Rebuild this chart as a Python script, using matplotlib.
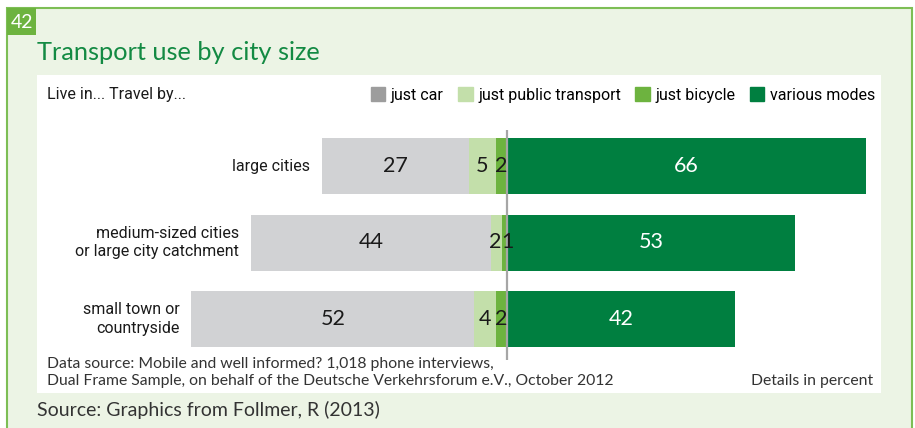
import matplotlib.pyplot as plt
from matplotlib.patches import Rectangle, Patch

# Transport use by city size (percent)
cities = ['large cities', 'medium-sized cities\nor large city catchment', 'small town or\ncountryside']
just_car = [27, 44, 52]
just_public = [5, 2, 4]
just_bicycle = [2, 1, 2]
various_modes = [66, 53, 42]
series_names = ['just car', 'just public transport', 'just bicycle', 'various modes']

W, H = 915, 428
c_car, c_car_leg = '#D1D2D4', '#9D9D9D'
c_pub, c_bike, c_var = '#C3DFAA', '#6DB33F', '#007F40'
narrow = ['Liberation Sans Narrow', 'Roboto', 'DejaVu Sans']
plain = ['Lato', 'DejaVu Sans']

def fx(x):
    return x / W

def fy(y):
    return 1 - y / H

fig = plt.figure(figsize=(9.15, 4.28), dpi=100)
fig.patch.set_facecolor('white')

# outer frame, number box, white panel (behind the axes)
fig.add_artist(Rectangle((fx(7), -0.02), fx(912) - fx(7), fy(8) + 0.02,
                         transform=fig.transFigure, facecolor='#ECF4E5',
                         edgecolor='#7DBE55', lw=1.5, zorder=-3))
fig.add_artist(Rectangle((fx(7), fy(35)), fx(36) - fx(7), fy(8) - fy(35),
                         transform=fig.transFigure, facecolor=c_bike, lw=0, zorder=-2))
fig.text(fx(22), fy(22), '42', color='white', fontsize=14, family=plain,
         ha='center', va='center')
fig.add_artist(Rectangle((fx(37), fy(393)), fx(881) - fx(37), fy(75) - fy(393),
                         transform=fig.transFigure, facecolor='white', lw=0, zorder=-2))

fig.text(fx(37), fy(60), 'Transport use by city size', color='#138A43',
         fontsize=18.3, family=plain, ha='left', va='baseline')
fig.text(fx(47), fy(95), 'Live in... Travel by...', color='#1a1a1a',
         fontsize=11.5, family=narrow, ha='left', va='center')

# bars
zero_px = 507
px_per = 5.44
ax = fig.add_axes([fx(37), fy(360), fx(881) - fx(37), fy(130) - fy(360)])
ax.set_facecolor('none')
ax.set_xlim(-(zero_px - 37) / px_per, (881 - zero_px) / px_per)
ax.set_ylim(2 + 41 / 76.5, -36 / 76.5)
ax.axis('off')

y = range(len(cities))
bh = 56 / 76.5
left_bike = [-b for b in just_bicycle]
left_pub = [-(b + p) for b, p in zip(just_bicycle, just_public)]
left_car = [-(b + p + c) for b, p, c in zip(just_bicycle, just_public, just_car)]
ax.barh(y, just_car, left=left_car, height=bh, color=c_car)
ax.barh(y, just_public, left=left_pub, height=bh, color=c_pub)
ax.barh(y, just_bicycle, left=left_bike, height=bh, color=c_bike)
ax.barh(y, various_modes, left=0, height=bh, color=c_var)
ax.axvline(0, color='#A6A6A6', lw=1.6)

for i in y:
    tiny = just_public[i] + just_bicycle[i] <= 3
    segs = [(left_car[i], just_car[i], '#1a1a1a', 'center'),
            (left_pub[i], just_public[i], '#1a1a1a', 'right' if tiny else 'center'),
            (left_bike[i], just_bicycle[i], '#1a1a1a', 'left' if tiny else 'center'),
            (0, various_modes[i], 'white', 'center')]
    for left, w, col, ha in segs:
        # very thin segments: push the two digits apart so they sit side by side
        xpos = {'center': left + w / 2, 'right': left + w, 'left': left}[ha]
        ax.text(xpos, i, str(w), color=col, fontsize=15.5, family=plain,
                ha=ha, va='center')
    ax.text(left_car[i] - 2.2, i, cities[i], color='#1a1a1a', fontsize=11.5,
            family=narrow, ha='right', va='center', linespacing=1.3)

# legend
handles = [Patch(color=c) for c in [c_car_leg, c_pub, c_bike, c_var]]
fig.legend(handles, series_names, loc='center right',
           bbox_to_anchor=(fx(875), fy(95)), ncol=4, frameon=False,
           handlelength=0.9, handleheight=0.9, handletextpad=0.35,
           columnspacing=0.9, borderpad=0, borderaxespad=0,
           prop={'family': narrow, 'size': 11.5})

# notes
fig.text(fx(47), fy(364), 'Data source: Mobile and well informed? 1,018 phone interviews,',
         color='#333333', fontsize=11.3, family=plain, ha='left', va='center')
fig.text(fx(47), fy(381), 'Dual Frame Sample, on behalf of the Deutsche Verkehrsforum e.V., October 2012',
         color='#333333', fontsize=11.3, family=plain, ha='left', va='center')
fig.text(fx(873), fy(381), 'Details in percent', color='#333333', fontsize=11.3,
         family=plain, ha='right', va='center')
fig.text(fx(37), fy(410), 'Source: Graphics from Follmer, R (2013)', color='#333333',
         fontsize=14, family=plain, ha='left', va='center')

fig.savefig('out.png', dpi=100)
